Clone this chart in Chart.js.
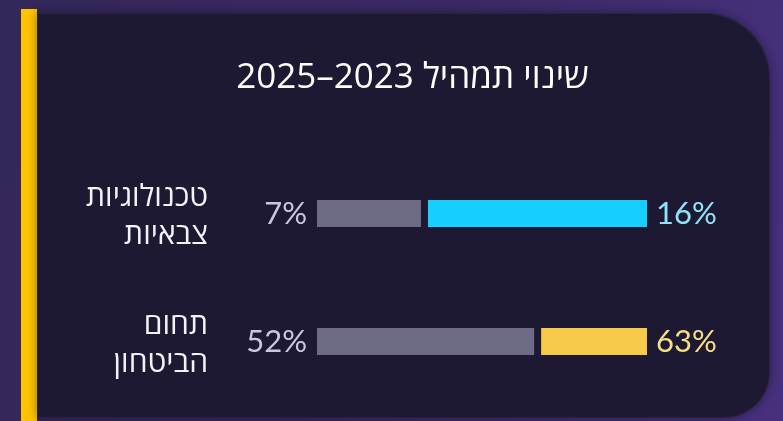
<!DOCTYPE html>
<html lang="he">
<head>
<meta charset="utf-8">
<script src="https://cdn.jsdelivr.net/npm/chart.js@4"></script>
<style>
  html, body { margin: 0; padding: 0; }
  body {
    width: 783px; height: 421px; overflow: hidden; position: relative;
    background: linear-gradient(100deg, #34275a 0%, #3a2a64 55%, #47317e 100%);
  }
  #accent { position: absolute; left: 21px; top: 9px; width: 16px; height: 412px; background: #ffc300; }
  #card {
    position: absolute; left: 37px; top: 12.5px; width: 733px; height: 405px;
    background: #1e1933; border-radius: 0 66px 46px 0;
    box-shadow: 0 0 10px rgba(10, 6, 25, 0.45), inset 0 0 0 1px rgba(255,255,255,0.05);
  }
  #wrap { position: absolute; left: 0; top: 0; width: 783px; height: 421px; }
</style>
</head>
<body>
<div id="accent"></div>
<div id="card"></div>
<div id="wrap"><canvas id="c" width="783" height="421"></canvas></div>
<script>
// ---- data ----
const titleText = 'שינוי תמהיל 2023–2025';
const categories = [['טכנולוגיות', 'צבאיות'], ['תחום', 'הביטחון']];
const share2023 = [7, 52];          // printed percentages (grey, 2023)
const share2025 = [16, 63];         // printed percentages (colour, 2025)
// drawn bar lengths, as shares of the bar track (the picture does not scale bars to the values)
const barLen2023 = [31.5, 65.8];
const barLen2025 = [68.5, 34.2];

const cardBg = '#1e1933';
const grey = '#6e6b86';
const colours2025 = ['#16cfff', '#f7c948'];
const labelColours2025 = ['#8fe2f7', '#f5df86'];

const labelsPlugin = {
  id: 'labels',
  afterDatasetsDraw(chart) {
    const ctx = chart.ctx;
    const area = chart.chartArea;
    ctx.save();
    // title
    ctx.fillStyle = '#ffffff';
    ctx.font = '35px "Open Sans"';
    ctx.textAlign = 'center';
    ctx.textBaseline = 'middle';
    ctx.direction = 'rtl';
    ctx.fillText(titleText, 412.5, 78);
    ctx.direction = 'ltr';
    // value labels
    const m0 = chart.getDatasetMeta(0);
    const m1 = chart.getDatasetMeta(1);
    ctx.font = '31px Lato';
    m0.data.forEach((bar, i) => {
      ctx.fillStyle = '#c9c6e2';
      ctx.textAlign = 'right';
      ctx.fillText(share2023[i] + '%', area.left - 10, bar.y + 0.5);
    });
    m1.data.forEach((bar, i) => {
      ctx.fillStyle = labelColours2025[i];
      ctx.textAlign = 'left';
      ctx.fillText(share2025[i] + '%', bar.x + 9, bar.y + 0.5);
    });
    ctx.restore();
  }
};

new Chart(document.getElementById('c'), {
  type: 'bar',
  data: {
    labels: categories,
    datasets: [
      {
        label: '2023',
        data: barLen2023,
        backgroundColor: grey,
        borderWidth: 0,
        barThickness: 27,
        inflateAmount: 0
      },
      {
        label: '2025',
        data: barLen2025,
        backgroundColor: colours2025,
        borderColor: cardBg,
        borderWidth: { left: 7, right: 0, top: 0, bottom: 0 },
        borderSkipped: false,
        barThickness: 27,
        inflateAmount: 0
      }
    ]
  },
  options: {
    responsive: false,
    animation: false,
    indexAxis: 'y',
    layout: { padding: { top: 149.5, bottom: 15.5, left: 0, right: 136 } },
    plugins: { legend: { display: false }, tooltip: { enabled: false }, title: { display: false } },
    scales: {
      x: { stacked: true, min: 0, max: 100, display: false },
      y: {
        stacked: true,
        grid: { display: false, drawTicks: false },
        border: { display: false },
        afterFit(scale) {
          scale.width = 317;
          scale.paddingTop = 0;
          scale.paddingBottom = 0;
        },
        ticks: {
          color: '#f3f2f7',
          font: { family: '"Open Sans"', size: 30, lineHeight: 38.5 / 30 },
          padding: 109,
          labelOffset: 3
        }
      }
    }
  },
  plugins: [labelsPlugin]
});
</script>
</body>
</html>
